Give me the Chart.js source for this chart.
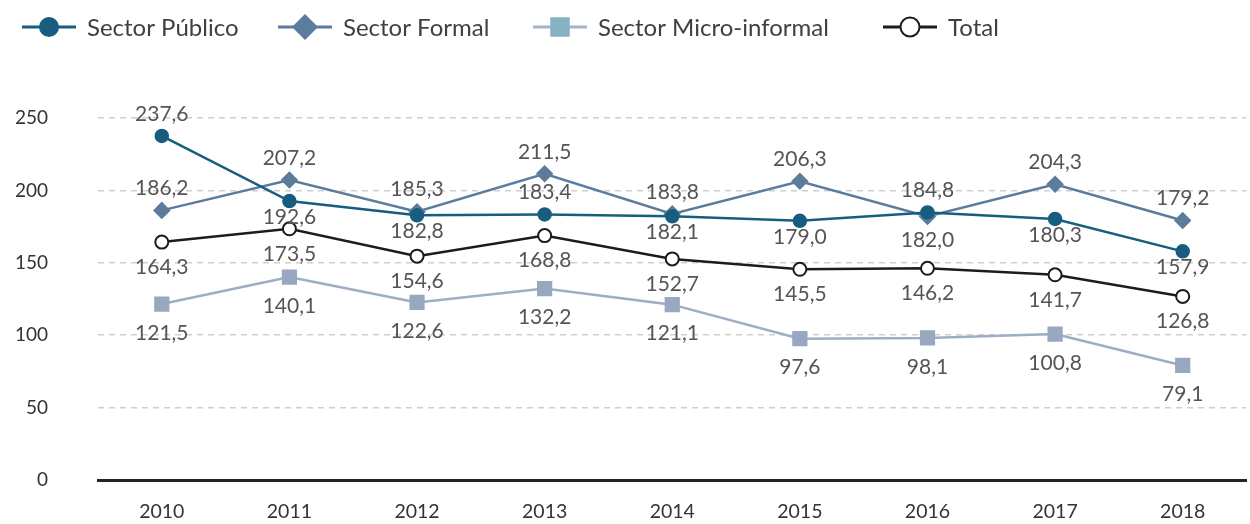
<!DOCTYPE html>
<html>
<head>
<meta charset="utf-8">
<script src="https://cdn.jsdelivr.net/npm/chart.js@4.4.1/dist/chart.umd.min.js"></script>
<style>
  html, body { margin: 0; padding: 0; background: #fff; overflow: hidden; }
</style>
</head>
<body>
<canvas id="chart" width="1258" height="524"></canvas>
<script>
// Values
const years = ['2010', '2011', '2012', '2013', '2014', '2015', '2016', '2017', '2018'];
const publico = [237.6, 192.6, 182.8, 183.4, 182.1, 179.0, 184.8, 180.3, 157.9];
const formal = [186.2, 207.2, 185.3, 211.5, 183.8, 206.3, 182.0, 204.3, 179.2];
const microInformal = [121.5, 140.1, 122.6, 132.2, 121.1, 97.6, 98.1, 100.8, 79.1];
const total = [164.3, 173.5, 154.6, 168.8, 152.7, 145.5, 146.2, 141.7, 126.8];
const yTicks = [0, 50, 100, 150, 200, 250];

// where each value label sits (a = above, b = below)
const labelSide = {
  publico: ['a', 'b', 'b', 'a', 'b', 'b', 'a', 'b', 'b'],
  formal: ['a', 'a', 'a', 'a', 'a', 'a', 'b', 'a', 'a'],
  micro: ['b', 'b', 'b', 'b', 'b', 'b', 'b', 'b', 'b'],
  total: ['b', 'b', 'b', 'b', 'b', 'b', 'b', 'b', 'b']
};

const FONT = 'Lato, "Noto Sans", sans-serif';
const fmt = v => v.toFixed(1).replace('.', ',');

// value labels drawn next to each point
const valueLabels = {
  id: 'valueLabels',
  afterDatasetsDraw(chart) {
    const ctx = chart.ctx;
    ctx.save();
    ctx.font = '21px ' + FONT;
    ctx.fillStyle = '#555';
    ctx.textAlign = 'center';
    ctx.textBaseline = 'middle';
    chart.data.datasets.forEach((ds, i) => {
      const meta = chart.getDatasetMeta(i);
      meta.data.forEach((pt, j) => {
        const dy = ds.labelSide[j] === 'a' ? -22 : ds.belowOffset;
        ctx.fillText(fmt(ds.data[j]), pt.x, pt.y + dy);
      });
    });
    ctx.restore();
  }
};

// legend with line-through-marker swatches
const lineLegend = {
  id: 'lineLegend',
  afterDraw(chart) {
    const ctx = chart.ctx;
    const starts = [22, 278, 533, 883];
    const y = 27;
    ctx.save();
    chart.data.datasets.forEach((ds, i) => {
      const x0 = starts[i];
      const cx = x0 + 27;
      const r = ds.legendRadius;
      ctx.strokeStyle = ds.legendLine || ds.borderColor;
      ctx.lineWidth = 3;
      ctx.beginPath();
      ctx.moveTo(x0, y);
      ctx.lineTo(x0 + 54, y);
      ctx.stroke();
      ctx.fillStyle = ds.legendMarker || ds.pointBackgroundColor;
      ctx.strokeStyle = ds.pointBorderColor;
      ctx.lineWidth = ds.pointBorderWidth || 1;
      ctx.beginPath();
      if (ds.pointStyle === 'circle') {
        ctx.arc(cx, y, r, 0, Math.PI * 2);
      } else if (ds.pointStyle === 'rectRot') {
        ctx.moveTo(cx, y - r); ctx.lineTo(cx + r, y); ctx.lineTo(cx, y + r); ctx.lineTo(cx - r, y); ctx.closePath();
      } else {
        ctx.rect(cx - r * 0.75, y - r * 0.75, r * 1.5, r * 1.5);
      }
      ctx.fill();
      if (ds.pointBorderWidth) ctx.stroke();
      ctx.fillStyle = '#404040';
      ctx.font = '24px ' + FONT;
      ctx.textAlign = 'left';
      ctx.textBaseline = 'middle';
      ctx.fillText(ds.label, x0 + 65, y + 1);
    });
    ctx.restore();
  }
};

new Chart(document.getElementById('chart'), {
  type: 'line',
  data: {
    labels: years,
    datasets: [{
      label: 'Sector Público',
      data: publico,
      labelSide: labelSide.publico,
      belowOffset: 16,
      borderColor: '#175d7f',
      backgroundColor: '#175d7f',
      pointBackgroundColor: '#175d7f',
      pointBorderColor: '#175d7f',
      pointStyle: 'circle',
      pointRadius: 6,
      legendRadius: 10,
      borderWidth: 2.5
    }, {
      label: 'Sector Formal',
      data: formal,
      labelSide: labelSide.formal,
      belowOffset: 24,
      borderColor: '#5c7c9b',
      backgroundColor: '#5c7c9b',
      pointBackgroundColor: '#5c7c9b',
      pointBorderColor: '#5c7c9b',
      pointStyle: 'rectRot',
      pointRadius: 7,
      legendRadius: 13,
      borderWidth: 2.5
    }, {
      label: 'Sector Micro-informal',
      data: microInformal,
      labelSide: labelSide.micro,
      belowOffset: 29,
      borderColor: '#9dadc4',
      backgroundColor: '#97a8c0',
      pointBackgroundColor: '#97a8c0',
      pointBorderColor: '#97a8c0',
      legendMarker: '#86b3c2',
      legendLine: '#a6b4c9',
      pointStyle: 'rect',
      pointRadius: 9,
      legendRadius: 13,
      borderWidth: 2.5
    }, {
      label: 'Total',
      data: total,
      labelSide: labelSide.total,
      belowOffset: 25,
      borderColor: '#1c1c1c',
      backgroundColor: '#ffffff',
      pointBackgroundColor: '#ffffff',
      pointBorderColor: '#1c1c1c',
      pointBorderWidth: 2,
      pointStyle: 'circle',
      pointRadius: 6.5,
      legendRadius: 9.5,
      borderWidth: 2.5
    }]
  },
  options: {
    responsive: false,
    animation: false,
    layout: { padding: { top: 118, left: 10, right: 0, bottom: 0 } },
    plugins: {
      legend: { display: false },
      tooltip: { enabled: false }
    },
    scales: {
      x: {
        offset: true,
        afterFit: axis => { axis.height = 44; },
        grid: { display: false },
        border: { display: true, color: '#222', width: 3 },
        ticks: { color: '#333', font: { family: FONT, size: 19.5 }, padding: 12, maxRotation: 0 }
      },
      y: {
        min: 0,
        max: 250,
        afterBuildTicks: axis => { axis.ticks = yTicks.map(v => ({ value: v })); },
        afterFit: axis => {
          axis.width = 88;
          // the wide tick padding should not eat vertical room
          axis.paddingTop = 10;
          axis.paddingBottom = 10;
        },
        grid: { color: '#cfcfcf', lineWidth: 1.5, drawTicks: false },
        border: { display: false, dash: [6, 5] },
        ticks: { color: '#333', font: { family: FONT, size: 19 }, padding: 50 }
      }
    }
  },
  plugins: [valueLabels, lineLegend]
});
</script>
</body>
</html>
